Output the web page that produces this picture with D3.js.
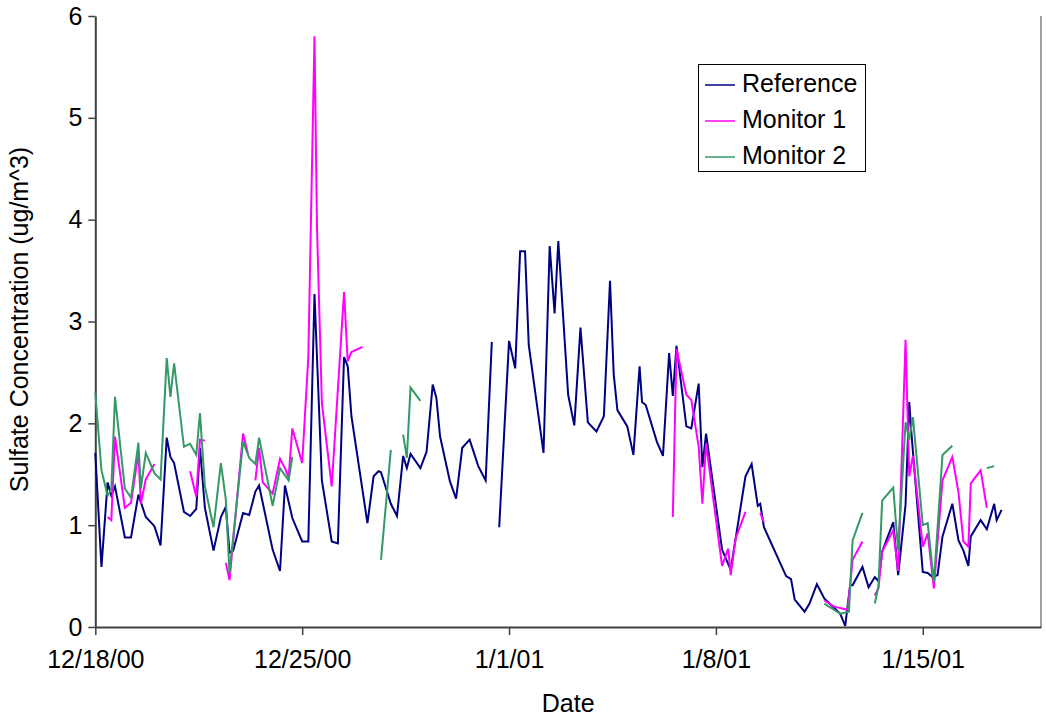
<!DOCTYPE html>
<html>
<head>
<meta charset="utf-8">
<script src="https://cdn.jsdelivr.net/npm/d3@7"></script>
<style>
  html, body { margin: 0; padding: 0; background: #fff; }
  svg { display: block; font-family: "Liberation Sans", Arial, Helvetica, sans-serif; }
</style>
</head>
<body>
<svg id="chart" width="1046" height="719"></svg>
<script>
// ---- data (hours since 12/18/00 00:00, sulfate ug/m^3; null = gap) ----
const startDate = new Date(2000, 11, 18);
const endDate = new Date(2001, 0, 19);
const tickDates = [new Date(2000, 11, 18), new Date(2000, 11, 25), new Date(2001, 0, 1), new Date(2001, 0, 8), new Date(2001, 0, 15)];
const tickLabels = ["12/18/00", "12/25/00", "1/1/01", "1/8/01", "1/15/01"];
const yTicks = [0, 1, 2, 3, 4, 5, 6];
const seriesNames = ["Reference", "Monitor 1", "Monitor 2"];
const seriesColors = ["#000080", "#FF00FF", "#339966"];

const refHours = [0,5,10,13,16,24,29,35,41,48,53,58,61,64,72,77,82,85,89,96,102,106,109,112,120,125,130,133,144,150,154,160,168,173,178,184,192,197,202,205,208,221,226,230,232,240,245,250,253,256,264,269,274,277,280,288,293,298,304,311,317,322,
  325,
  328,336,341,345,349,352,364,369,373,376,384,389,394,400,407,413,418,421,424,432,437,442,444,447,456,461,466,469,472,480,484,490,493,496,509,516,528,533,538,540,543,561,565,568,576,580,586,592,605,609,613,615,623,628,633,636,639,648,652,658,661,663,672,676,680,684,688,696,701,705,709,711,719,724,730,732,736];
const refValues = [1.71,0.59,1.42,1.29,1.38,0.88,0.88,1.30,1.08,0.99,0.80,1.86,1.67,1.61,1.13,1.09,1.16,1.76,1.17,0.75,1.08,1.18,0.73,0.75,1.12,1.10,1.33,1.39,0.76,0.55,1.39,1.07,0.84,0.84,3.27,1.44,0.84,0.82,2.65,2.56,2.07,1.02,1.48,1.53,1.52,1.21,1.09,1.68,1.56,1.70,1.56,1.72,2.38,2.25,1.87,1.43,1.26,1.76,1.84,1.58,1.44,2.80,
  null,
  0.98,2.81,2.54,3.69,3.69,2.77,1.71,3.74,3.08,3.79,2.28,1.98,2.94,2.01,1.92,2.07,3.40,2.48,2.13,1.97,1.69,2.56,2.21,2.18,1.82,1.68,2.69,2.27,2.76,1.97,1.95,2.39,1.57,1.90,0.76,0.56,1.48,1.60,1.19,1.21,0.98,0.50,0.47,0.27,0.15,0.23,0.42,0.28,0.13,0.01,0.41,0.41,0.59,0.39,0.49,0.45,0.74,1.03,0.51,1.20,2.21,1.87,0.54,0.53,0.49,0.51,0.89,1.21,0.85,0.75,0.60,0.89,1.05,0.96,1.21,1.05,1.15];

const mon1Hours = [10,13,16,24,29,35,37,41,48, 60, 77,82,85,89, 100, 106,109,120,124, 127, 130,133,136,144,150,154,157,160,168,173,178,180,184,192,202,205,208,217, 300, 469,472,480,484,490,493,496,509,514,516,520,528, 535, 540,543, 570, 592,600,611,615,623, 628, 633,636,639,648,652,658,661,664,672,676,681,688,696,701,705,709,711,719,724];
const mon1Values = [1.08,1.05,1.87,1.17,1.22,1.71,1.21,1.45,1.60, null, 1.53,1.28,1.84,1.83, null, 0.63,0.46,1.90,1.70, null, 1.44,1.76,1.42,1.31,1.65,1.56,1.47,1.95,1.61,2.65,5.80,3.95,2.20,1.38,3.29,2.61,2.70,2.75, null, 1.08,2.73,2.28,2.23,1.77,1.21,1.80,0.60,0.77,0.51,0.87,1.13, null, 1.12,1.03, null, 0.26,0.20,0.17,0.66,0.84, null, 0.31,0.38,0.74,0.95,0.55,2.82,1.48,1.68,0.79,0.92,0.38,1.44,1.67,1.32,0.84,0.79,1.41,1.54,1.17];

const mon2Hours = [0,5,10,13,16,24,29,35,37,41,48,53,58,61,64,72,77,82,85,89,96,102,106,109,120,125,130,133,144,150,157,160, 200, 232,240, 245, 250,253,256,264, 400, 592,605,612,615,623, 628, 633,636,639,648,652,658,661,664,672,676,681,688,696, 710, 724,730];
const mon2Values = [2.30,1.54,1.29,1.35,2.26,1.36,1.27,1.81,1.36,1.71,1.51,1.45,2.64,2.26,2.59,1.77,1.80,1.69,2.10,1.38,0.98,1.61,1.25,0.53,1.82,1.66,1.60,1.86,1.19,1.56,1.44,1.67, null, 0.66,1.74, null, 1.89,1.66,2.35,2.22, null, 0.23,0.13,0.15,0.85,1.12, null, 0.23,0.40,1.24,1.37,0.75,2.01,1.84,2.06,1.00,1.02,0.44,1.69,1.78, null, 1.56,1.58];

// ---- layout ----
const plotLeft = 95.3, plotRight = 1041, plotTop = 16, plotBottom = 627;
const svg = d3.select("#chart");
const x = d3.scaleTime().domain([startDate, endDate]).range([plotLeft, plotRight]);
const y = d3.scaleLinear().domain([0, 6]).range([plotBottom, plotTop]);
const toDate = h => new Date(startDate.getTime() + h * 3600 * 1000);

function build(hours, values) {
  return hours.map((h, i) => ({ t: toDate(h), v: values[i] }));
}
const series = [build(refHours, refValues), build(mon1Hours, mon1Values), build(mon2Hours, mon2Values)];

const fontSize = 25;
const axisColor = "#404040";

// right frame line
svg.append("line").attr("x1", plotRight).attr("x2", plotRight).attr("y1", plotTop).attr("y2", plotBottom)
  .attr("stroke", "#808080").attr("stroke-width", 1.5);

// y axis
const yAxis = d3.axisLeft(y).tickValues(yTicks).tickSize(7).tickSizeOuter(0).tickPadding(6).tickFormat(d3.format("d"));
const gy = svg.append("g").attr("transform", `translate(${plotLeft},0)`).call(yAxis);
gy.select(".domain").attr("stroke", axisColor).attr("stroke-width", 2);
gy.selectAll(".tick line").attr("stroke", axisColor).attr("stroke-width", 1.5);
gy.selectAll(".tick text").attr("font-size", fontSize).attr("fill", "#000").attr("font-family", "Liberation Sans, Arial, sans-serif");

// x axis
const xAxis = d3.axisBottom(x).tickValues(tickDates).tickSize(8).tickSizeOuter(0).tickPadding(15)
  .tickFormat((d, i) => tickLabels[i]);
const gx = svg.append("g").attr("transform", `translate(0,${plotBottom})`).call(xAxis);
gx.select(".domain").attr("stroke", axisColor).attr("stroke-width", 2);
gx.selectAll(".tick line").attr("stroke", axisColor).attr("stroke-width", 1.5);
gx.selectAll(".tick text").attr("font-size", fontSize).attr("fill", "#000").attr("font-family", "Liberation Sans, Arial, sans-serif");

// series lines
const line = d3.line().defined(d => d.v != null).x(d => x(d.t)).y(d => y(d.v));
series.forEach((s, i) => {
  svg.append("path").datum(s).attr("d", line)
    .attr("fill", "none").attr("stroke", seriesColors[i]).attr("stroke-width", 2)
    .attr("stroke-linejoin", "miter").attr("stroke-miterlimit", 4);
});

// axis titles
svg.append("text").attr("x", (plotLeft + plotRight) / 2).attr("y", 705)
  .attr("text-anchor", "middle").attr("dominant-baseline", "middle")
  .attr("font-size", fontSize).text("Date");
svg.append("text").attr("transform", `translate(21,${(plotTop + plotBottom) / 2 - 2}) rotate(-90)`)
  .attr("text-anchor", "middle").attr("dominant-baseline", "middle")
  .attr("font-size", fontSize).text("Sulfate Concentration (ug/m^3)");

// legend
const lg = svg.append("g");
lg.append("rect").attr("x", 698.5).attr("y", 64.5).attr("width", 167).attr("height", 107)
  .attr("fill", "#fff").attr("stroke", "#000").attr("stroke-width", 1);
seriesNames.forEach((name, i) => {
  const cy = 85 + i * 36;
  lg.append("line").attr("x1", 705).attr("x2", 735).attr("y1", cy).attr("y2", cy)
    .attr("stroke", seriesColors[i]).attr("stroke-width", 1.5);
  lg.append("text").attr("x", 742).attr("y", cy).attr("dominant-baseline", "middle")
    .attr("font-size", fontSize).text(name);
});
</script>
</body>
</html>
